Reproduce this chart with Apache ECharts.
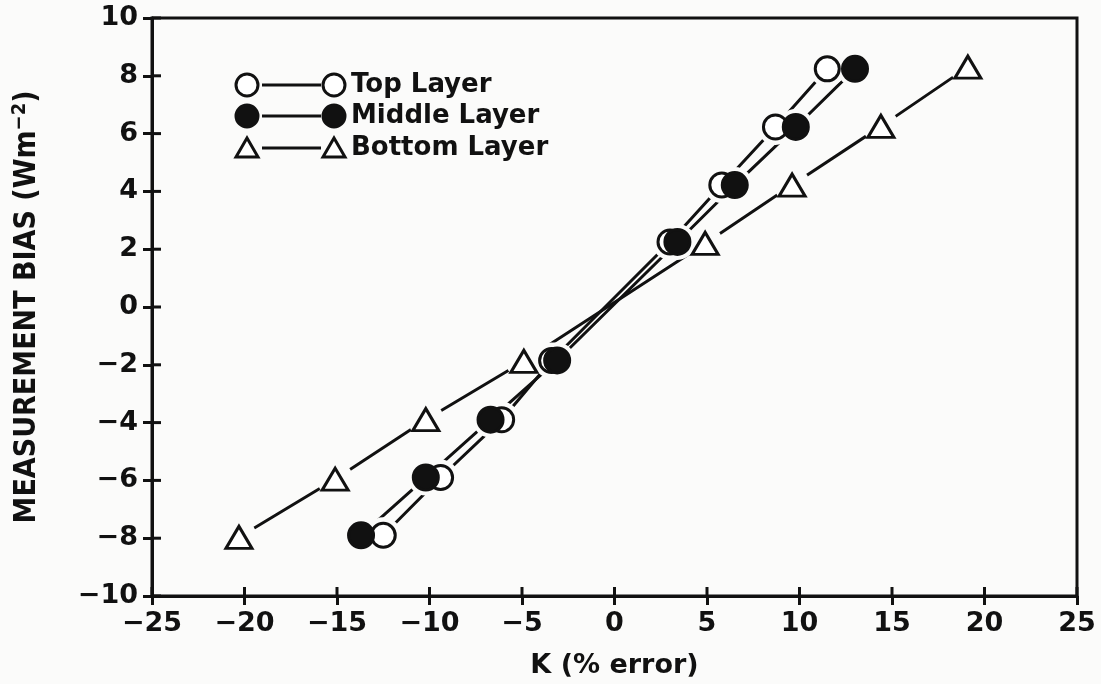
<!DOCTYPE html>
<html>
<head>
<meta charset="utf-8">
<script src="https://cdn.jsdelivr.net/npm/echarts@6/dist/echarts.min.js"></script>
<style>
  html, body { margin: 0; padding: 0; background: #fbfbfa; }
  #chart { width: 1101px; height: 684px; }
</style>
</head>
<body>
<div id="chart"></div>
<script>
// K (% error) and measurement bias for each layer
const kTop = [-12.5, -9.4, -6.1, -3.4, 3.0, 5.8, 8.7, 11.5]
const biasTop = [-7.9, -5.9, -3.9, -1.85, 2.25, 4.22, 6.23, 8.24]
const kMiddle = [-13.7, -10.2, -6.7, -3.1, 3.4, 6.5, 9.8, 13.0]
const biasMiddle = [-7.9, -5.9, -3.9, -1.85, 2.25, 4.22, 6.23, 8.24]
const kBottom = [-20.3, -15.1, -10.2, -4.9, 4.9, 9.6, 14.4, 19.1]
const biasBottom = [-7.97, -5.96, -3.9, -1.88, 2.2, 4.22, 6.25, 8.3]
const xTickValues = [-25, -20, -15, -10, -5, 0, 5, 10, 15, 20, 25]
const yTickValues = [-10, -8, -6, -4, -2, 0, 2, 4, 6, 8, 10]

const ink = '#111'
const paper = '#fbfbfa'
const font = 'DejaVu Sans'

const pairs = (xs, ys) => xs.map((x, i) => [x, ys[i]])
const minus = v => String(v).replace('-', '\u2212')
const xMin = xTickValues[0], xMax = xTickValues[xTickValues.length - 1]
const yMin = yTickValues[0], yMax = yTickValues[yTickValues.length - 1]

const layers = [
  { name: 'Top Layer', data: pairs(kTop, biasTop), symbol: 'circle', size: 24, fill: '#fff', z: 3 },
  { name: 'Middle Layer', data: pairs(kMiddle, biasMiddle), symbol: 'circle', size: 25, fill: ink, z: 4 },
  { name: 'Bottom Layer', data: pairs(kBottom, biasBottom), symbol: 'triangle', size: [26, 22], fill: '#fff', z: 3 }
]

const series = []
layers.forEach(l => {
  series.push({
    type: 'line', data: l.data, showSymbol: false, silent: true, z: 1,
    lineStyle: { color: ink, width: 3 }
  })
  // white gap round each marker, like the original plot
  series.push({
    type: 'scatter', data: l.data, symbol: 'circle', symbolSize: 36, silent: true, z: 2,
    itemStyle: { color: paper, opacity: 1 }
  })
  series.push({
    name: l.name, type: 'scatter', data: l.data, symbol: l.symbol, symbolSize: l.size, z: l.z,
    itemStyle: { color: l.fill, borderColor: ink, borderWidth: 3, opacity: 1 }
  })
})

// inner half of the crossing ticks
const tickLine = (a, b) => ({
  type: 'line', shape: { x1: a[0], y1: a[1], x2: b[0], y2: b[1] },
  style: { stroke: ink, lineWidth: 3 }
})
series.push({
  type: 'custom', silent: true, z: 5, clip: false,
  data: xTickValues,
  renderItem: (params, api) => {
    const p = api.coord([api.value(0), yMin])
    return tickLine(p, [p[0], p[1] - 9])
  }
})
series.push({
  type: 'custom', silent: true, z: 5, clip: false,
  data: yTickValues.map(v => [xMin, v]),
  renderItem: (params, api) => {
    const p = api.coord([api.value(0), api.value(1)])
    return tickLine(p, [p[0] + 9, p[1]])
  }
})

// legend drawn by hand: marker — marker label
const legendRows = [85, 116, 148]
const legendEls = []
layers.forEach((l, i) => {
  const y = legendRows[i]
  const mark = cx => l.symbol === 'circle'
    ? { type: 'circle', shape: { cx: cx, cy: y, r: 11 }, style: { fill: l.fill, stroke: ink, lineWidth: 3 } }
    : { type: 'polygon', shape: { points: [[cx - 11, y + 9], [cx + 11, y + 9], [cx, y - 10]] }, style: { fill: '#fff', stroke: ink, lineWidth: 3 } }
  legendEls.push(mark(247))
  legendEls.push({ type: 'line', shape: { x1: 262, y1: y, x2: 321, y2: y }, style: { stroke: ink, lineWidth: 3 } })
  legendEls.push(mark(334))
  legendEls.push({
    type: 'text', x: 351, y: y,
    style: { text: l.name, font: 'bold 26px "' + font + '"', fill: ink, verticalAlign: 'middle' }
  })
})

const axisLabel = { color: ink, fontFamily: font, fontSize: 27, fontWeight: 'bold' }
const tickStyle = { length: 9, lineStyle: { color: ink, width: 3 } }

const chart = echarts.init(document.getElementById('chart'))
chart.setOption({
  backgroundColor: paper,
  animation: false,
  grid: { left: 152, right: 24, top: 18, bottom: 86, show: true, borderColor: ink, borderWidth: 3 },
  xAxis: {
    type: 'value', min: xMin, max: xMax, interval: 5,
    name: 'K (% error)', nameLocation: 'middle', nameGap: 56,
    nameTextStyle: { color: ink, fontFamily: font, fontSize: 27, fontWeight: 'bold' },
    axisLine: { onZero: false, lineStyle: { color: ink, width: 3 } },
    axisTick: tickStyle,
    axisLabel: { ...axisLabel, margin: 14, formatter: minus },
    splitLine: { show: false }
  },
  yAxis: {
    type: 'value', min: yMin, max: yMax, interval: 2,
    name: '{t|MEASUREMENT BIAS (Wm}{s|\u22122}{t|)}', nameLocation: 'middle', nameGap: 108,
    nameTextStyle: {
      rich: {
        t: { color: ink, fontFamily: 'DejaVu Sans Condensed', fontSize: 30, fontWeight: 'bold' },
        s: { color: ink, fontFamily: 'DejaVu Sans Condensed', fontSize: 20, fontWeight: 'bold', verticalAlign: 'top', padding: [0, 0, 14, 0] }
      }
    },
    axisLine: { onZero: false, lineStyle: { color: ink, width: 3 } },
    axisTick: tickStyle,
    axisLabel: { ...axisLabel, margin: 14, formatter: minus },
    splitLine: { show: false }
  },
  graphic: legendEls,
  series: series
})
</script>
</body>
</html>
